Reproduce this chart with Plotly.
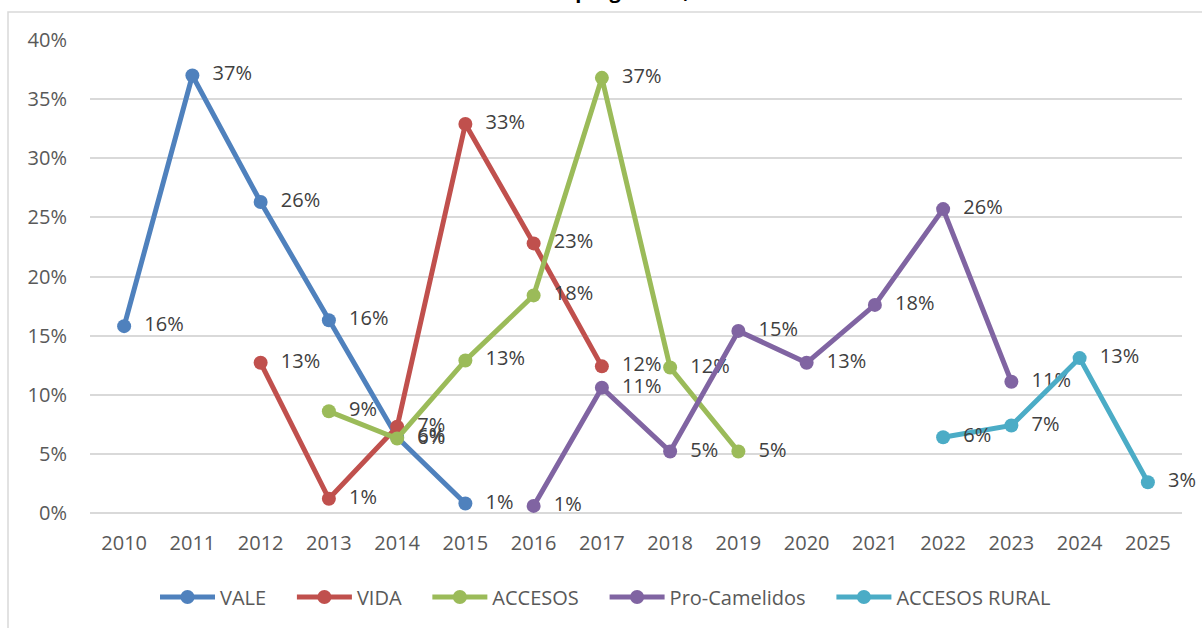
import plotly.graph_objects as go

years = list(range(2010, 2026))

vale_x = [2010, 2011, 2012, 2013, 2014, 2015]
vale_y = [0.158, 0.370, 0.263, 0.163, 0.064, 0.008]

vida_x = [2012, 2013, 2014, 2015, 2016, 2017]
vida_y = [0.127, 0.012, 0.073, 0.329, 0.228, 0.124]

acc_x = [2013, 2014, 2015, 2016, 2017, 2018, 2019]
acc_y = [0.086, 0.063, 0.129, 0.184, 0.368, 0.123, 0.052]

cam_x = [2016, 2017, 2018, 2019, 2020, 2021, 2022, 2023]
cam_y = [0.006, 0.106, 0.052, 0.154, 0.127, 0.176, 0.257, 0.111]

rur_x = [2022, 2023, 2024, 2025]
rur_y = [0.064, 0.074, 0.131, 0.026]

series = [
    ("VALE", vale_x, vale_y, "#4F81BD"),
    ("VIDA", vida_x, vida_y, "#C0504D"),
    ("ACCESOS", acc_x, acc_y, "#9BBB59"),
    ("Pro-Camelidos", cam_x, cam_y, "#8064A2"),
    ("ACCESOS RURAL", rur_x, rur_y, "#4BACC6"),
]

FONT = "Open Sans"
PAD = "\u00a0" * 4
fig = go.Figure()
for i, (name, xs, ys, col) in enumerate(series):
    fig.add_trace(go.Scatter(
        x=xs, y=ys, name=name + (PAD if i < len(series) - 1 else ""),
        mode="lines+markers+text",
        line=dict(color=col, width=5),
        marker=dict(color=col, size=14),
        text=["  " + f"{round(v*100):.0f}%" for v in ys],
        textposition="middle right",
        textfont=dict(family=FONT, size=20, color="#404040"),
        cliponaxis=False,
    ))

W, H = 1202, 628
L, R, T, B = 90, 1182, 40, 513
pw, ph = R - L, B - T

fig.add_annotation(
    text="<b>Tasa de crecimiento de los programas, 2010-2025</b>",
    font=dict(family=FONT, size=20, color="#000000"),
    xref="paper", yref="paper", x=(305 - L) / pw, xanchor="left",
    y=(B - 6) / ph, yanchor="bottom", showarrow=False,
)

fig.update_layout(
    width=W, height=H,
    margin=dict(l=L, r=W - R, t=T, b=H - B),
    paper_bgcolor="white", plot_bgcolor="white",
    font=dict(family=FONT, color="#595959"),
    showlegend=True,
    legend=dict(orientation="h", xref="container", x=155 / W, xanchor="left",
                yref="container", y=(H - 597) / H, yanchor="middle",
                font=dict(family=FONT, size=20, color="#595959"),
                itemwidth=55, bgcolor="rgba(0,0,0,0)"),
    xaxis=dict(range=[2009.5, 2025.5], tickmode="array", tickvals=years,
               ticktext=[str(y) for y in years], showgrid=False, zeroline=False,
               showline=False, ticks="", tickfont=dict(family=FONT, size=20, color="#595959"),
               ticklabelstandoff=16),
    yaxis=dict(range=[0, 0.4], tickvals=[0, 0.05, 0.1, 0.15, 0.2, 0.25, 0.3, 0.35, 0.4],
               tickformat=".0%", showgrid=True, gridcolor="#D9D9D9", gridwidth=1.5,
               zeroline=True, zerolinecolor="#D9D9D9", zerolinewidth=1.5,
               showline=False, ticks="", tickfont=dict(family=FONT, size=20, color="#595959"),
               ticklabelstandoff=22),
    shapes=[dict(type="rect", xref="paper", yref="paper",
                 x0=(8 - L) / pw, x1=(1210 - L) / pw,
                 y0=(B - 640) / ph, y1=(B - 12) / ph,
                 line=dict(color="#D9D9D9", width=1.5), fillcolor="rgba(0,0,0,0)",
                 layer="below")],
)

fig.write_html("out.html", config={"displayModeBar": False},
               post_script="document.body.style.margin='0';document.body.style.overflow='hidden';")
